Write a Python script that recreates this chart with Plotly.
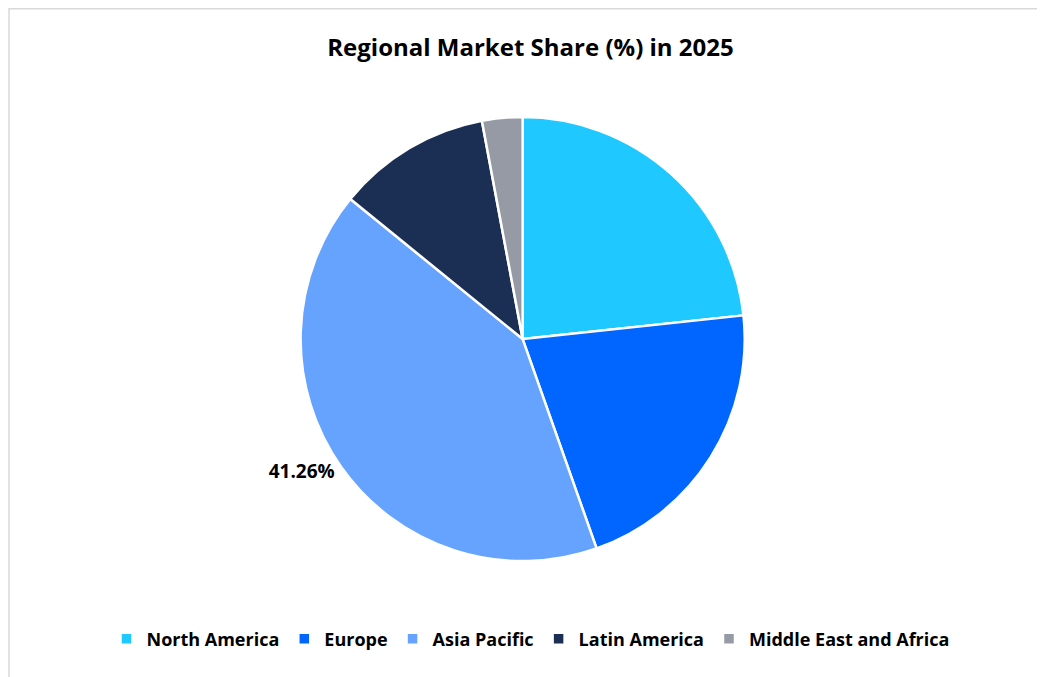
import plotly.graph_objects as go

regions = ["North America", "Europe", "Asia Pacific", "Latin America", "Middle East and Africa"]
shares = [23.3, 21.3, 41.26, 11.2, 2.94]
colors = ["#1FC9FF", "#0066FF", "#66A3FF", "#1B2F55", "#969AA5"]
shown = ["", "", "41.26%", "", ""]

fig = go.Figure(go.Pie(
    labels=regions, values=shares, sort=False, direction="clockwise", rotation=0,
    marker=dict(colors=colors, line=dict(color="white", width=2.5)),
    text=shown, texttemplate="%{text}", textposition="outside",
    textfont=dict(size=19, color="black", family="Open Sans", weight="bold"),
    domain=dict(x=[0, 0.985], y=[0.183, 0.839]), hoverinfo="label+percent",
))
fig.update_layout(
    width=1045, height=677, autosize=False, margin=dict(l=0, r=0, t=0, b=0, autoexpand=False),
    paper_bgcolor="white", plot_bgcolor="white",
    title=dict(text="<b>Regional Market Share (%) in 2025</b>", x=0.5, xanchor="center", xref="paper",
               y=0.941, yanchor="middle", font=dict(size=24, color="black", family="Open Sans")),
    legend=dict(orientation="h", x=0.5, xanchor="center", y=0.068, yanchor="middle",
                font=dict(size=18, color="black", family="Open Sans", weight="bold"),
                itemwidth=30, tracegroupgap=0),
    font=dict(family="Open Sans"),
    shapes=[dict(type="rect", xref="paper", yref="paper", x0=0.001, y0=0.001, x1=0.999, y1=0.999,
                 line=dict(color="#D9D9D9", width=1.5))],
)
fig.write_html("out.html")
